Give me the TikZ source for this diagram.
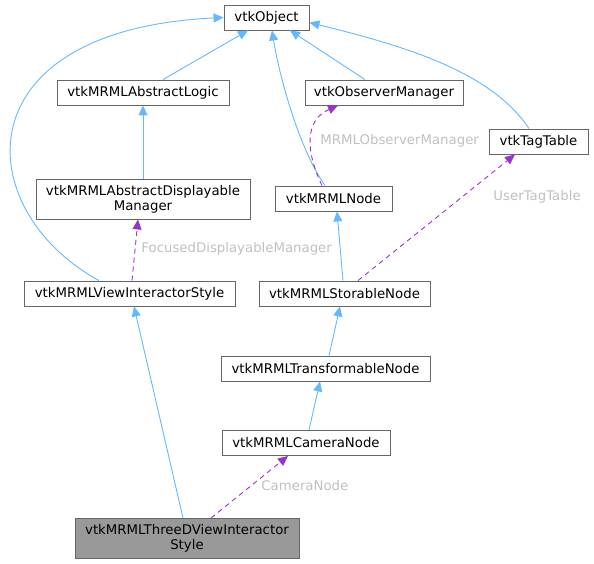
\documentclass[tikz,border=0pt]{standalone}
\usepackage{fontspec}
\setmainfont{DejaVu Sans}
\usetikzlibrary{arrows.meta}
\definecolor{edgeblue}{HTML}{63B8FF}
\definecolor{edgepurple}{HTML}{9A32CD}
\definecolor{boxgray}{HTML}{666666}
\definecolor{labelgray}{HTML}{C0C0C0}

\begin{document}
\begin{tikzpicture}[x=1pt,y=-1pt,
   font=\fontsize{13.3}{15}\selectfont,
   every node/.style={draw=boxgray,line width=0.9pt,inner sep=0pt,
     minimum height=25pt,align=center,fill=white},
   inherit/.style={draw=edgeblue,line width=0.9pt,
     -{Triangle[length=10pt,width=9pt]}},
   usage/.style={draw=edgepurple,line width=0.9pt,dash pattern=on 5pt off 4pt,
     -{Triangle[length=10pt,width=9pt]}},
   elabel/.style={draw=none,fill=none,text=labelgray,anchor=west,minimum height=0pt}]
\useasboundingbox (0,0) rectangle (594,564);
\node (obj)      at (266.5,17.5) [minimum width=85pt]  {vtkObject};
\node (logic)    at (143,92.5)   [minimum width=172pt] {vtkMRMLAbstractLogic};
\node (dispmgr)  at (143,199)    [minimum width=214pt,minimum height=40pt]
                                 {vtkMRMLAbstractDisplayable\\Manager};
\node (view)     at (129.5,293.5) [minimum width=211pt] {vtkMRMLViewInteractorStyle};
\node (obsmgr)   at (384,92.5)   [minimum width=158pt] {vtkObserverManager};
\node (tag)      at (538.5,141.5) [minimum width=99pt] {vtkTagTable};
\node (mrmlnode) at (333.5,198.5) [minimum width=117pt] {vtkMRMLNode};
\node (storable) at (344.5,293.5) [minimum width=171pt] {vtkMRMLStorableNode};
\node (transf)   at (325.5,368.5) [minimum width=209pt] {vtkMRMLTransformableNode};
\node (camera)   at (306,443)    [minimum width=168pt] {vtkMRMLCameraNode};
\node (threed)   at (187,538.5)  [minimum width=224pt,minimum height=40pt,fill={rgb,255:red,153;green,153;blue,153}]
                                 {vtkMRMLThreeDViewInteractor\\Style};

\draw[inherit] ([xshift=20pt]logic.north) -- ([xshift=-18.5pt]obj.south);
\draw[inherit] (dispmgr.north) -- (logic.south);
\draw[inherit] ([xshift=-30.5pt]view.north) .. controls (-30,210) and (-40,30) .. (obj.west);
\draw[inherit] ([xshift=-19pt]obsmgr.north) -- ([xshift=23.5pt]obj.south);
\draw[inherit] ([xshift=-8.5pt]mrmlnode.north) .. controls (300,150) and (280,80) .. ([xshift=5.5pt]obj.south);
\draw[inherit] ([xshift=-9.5pt]tag.north) .. controls (490,70) and (400,45) .. ([yshift=-5pt]obj.east);
\draw[inherit] ([xshift=-1.5pt]storable.north) -- ([xshift=3.5pt]mrmlnode.south);
\draw[inherit] ([xshift=3.5pt]transf.north) -- ([xshift=-4.5pt]storable.south);
\draw[inherit] ([xshift=3pt]camera.north) -- ([xshift=-5.5pt]transf.south);
\draw[inherit] ([xshift=-4pt]threed.north) -- ([xshift=4.5pt]view.south);

\draw[usage] ([xshift=2.5pt]view.north) -- ([xshift=-5pt]dispmgr.south)
  node[elabel] at (141,249) {FocusedDisplayableManager};
\draw[usage] ([xshift=-11.5pt]mrmlnode.north) .. controls (305,150) and (305,120) .. ([xshift=-46pt]obsmgr.south)
  node[elabel] at (320,141) {MRMLObserverManager};
\draw[usage] ([xshift=13.5pt]storable.north) -- ([xshift=-23.5pt]tag.south)
  node[elabel] at (493,197) {UserTagTable};
\draw[usage] ([xshift=24pt]threed.north) -- ([xshift=-18pt]camera.south)
  node[elabel] at (261,486) {CameraNode};
\end{tikzpicture}
\end{document}
